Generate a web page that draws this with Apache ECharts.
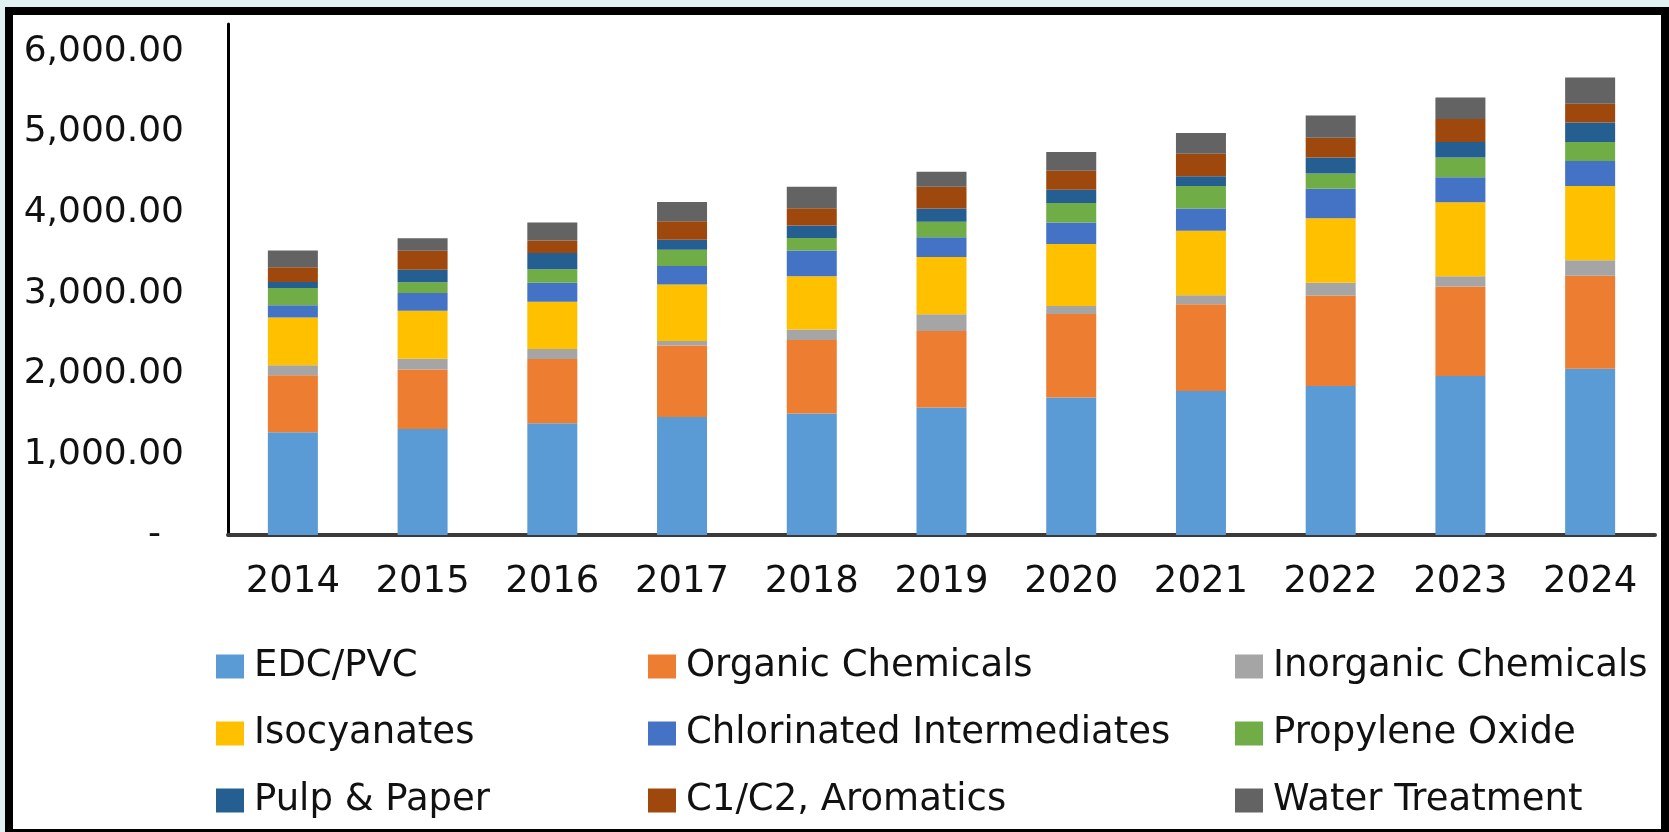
<!DOCTYPE html>
<html>
<head>
<meta charset="utf-8">
<title>Chlor-alkali demand by segment</title>
<script src="https://cdn.jsdelivr.net/npm/echarts@6/dist/echarts.min.js"></script>
<style>
  html, body { margin: 0; padding: 0; background: #dff2f1; }
  #frame {
    position: absolute; left: 5px; top: 7px; width: 1664px; height: 825px;
    box-sizing: border-box; background: #fff;
    border-style: solid; border-color: #000;
    border-width: 8px 8px 3px 8px;
  }
  #chart { position: absolute; left: 0; top: 0; width: 1669px; height: 832px; }
</style>
</head>
<body>
<div id="frame"></div>
<div id="chart"></div>
<script>
// values, one array per segment
var years = ['2014', '2015', '2016', '2017', '2018', '2019', '2020', '2021', '2022', '2023', '2024']
var edcPvc = [1276, 1316, 1387, 1463, 1507, 1583, 1707, 1787, 1849, 1973, 2063]
var organicChem = [707, 737, 796, 888, 911, 947, 1036, 1076, 1124, 1111, 1155]
var inorganicChem = [124, 133, 124, 55, 133, 208, 97, 111, 156, 125, 192]
var isocyanates = [591, 596, 587, 701, 659, 712, 769, 800, 800, 920, 920]
var chlorinated = [152, 221, 236, 232, 320, 244, 267, 276, 368, 311, 311]
var propyleneOxide = [213, 133, 168, 200, 155, 191, 244, 280, 187, 244, 236]
var pulpPaper = [75, 156, 200, 124, 156, 165, 164, 120, 200, 192, 240]
var c1c2Aromatics = [183, 236, 156, 231, 213, 271, 236, 280, 245, 284, 235]
var waterTreatment = [209, 155, 222, 236, 267, 187, 231, 257, 275, 267, 325]

var segments = [
  { name: 'EDC/PVC', data: edcPvc, color: '#5b9bd5' },
  { name: 'Organic Chemicals', data: organicChem, color: '#ed7d31' },
  { name: 'Inorganic Chemicals', data: inorganicChem, color: '#a5a5a5' },
  { name: 'Isocyanates', data: isocyanates, color: '#ffc000' },
  { name: 'Chlorinated Intermediates', data: chlorinated, color: '#4472c4' },
  { name: 'Propylene Oxide', data: propyleneOxide, color: '#70ad47' },
  { name: 'Pulp & Paper', data: pulpPaper, color: '#255e91' },
  { name: 'C1/C2, Aromatics', data: c1c2Aromatics, color: '#9e480e' },
  { name: 'Water Treatment', data: waterTreatment, color: '#636363' }
]

var textColor = '#111'
var font = 'DejaVu Sans'

function legendColumn(left, names) {
  return {
    orient: 'vertical',
    left: left,
    top: 643,
    itemWidth: 28,
    itemHeight: 24,
    itemGap: 30,
    icon: 'rect',
    selectedMode: false,
    data: names,
    textStyle: { fontFamily: font, fontSize: 37, color: textColor, padding: [0, 0, 0, 5] }
  }
}

var chart = echarts.init(document.getElementById('chart'), null, { renderer: 'canvas' })

chart.setOption({
  animation: false,
  backgroundColor: 'transparent',
  grid: { left: 228, right: 14, top: 24, bottom: 297, containLabel: false },
  legend: [
    legendColumn(211, ['EDC/PVC', 'Isocyanates', 'Pulp & Paper']),
    legendColumn(643, ['Organic Chemicals', 'Chlorinated Intermediates', 'C1/C2, Aromatics']),
    legendColumn(1230, ['Inorganic Chemicals', 'Propylene Oxide', 'Water Treatment'])
  ],
  xAxis: {
    type: 'category',
    data: years,
    axisTick: { show: false },
    axisLine: { lineStyle: { color: '#3a3a3a', width: 4 } },
    axisLabel: { fontFamily: font, fontSize: 37, color: textColor, margin: 29 }
  },
  yAxis: {
    type: 'value',
    min: 0,
    max: 6340,
    interval: 1000,
    splitLine: { show: false },
    axisTick: { show: false },
    axisLine: { show: true, lineStyle: { color: '#000', width: 3 } },
    axisLabel: {
      fontFamily: font,
      fontSize: 36,
      color: textColor,
      margin: 44,
      formatter: function (v) {
        if (v === 0) return '-  '
        if (v % 1000 !== 0) return ''
        return v.toLocaleString('en-US', { minimumFractionDigits: 2, maximumFractionDigits: 2 })
      }
    }
  },
  series: segments.map(function (s) {
    return {
      name: s.name,
      type: 'bar',
      stack: 'total',
      barWidth: 50,
      data: s.data,
      itemStyle: { color: s.color },
      emphasis: { disabled: true }
    }
  })
})
</script>
</body>
</html>
